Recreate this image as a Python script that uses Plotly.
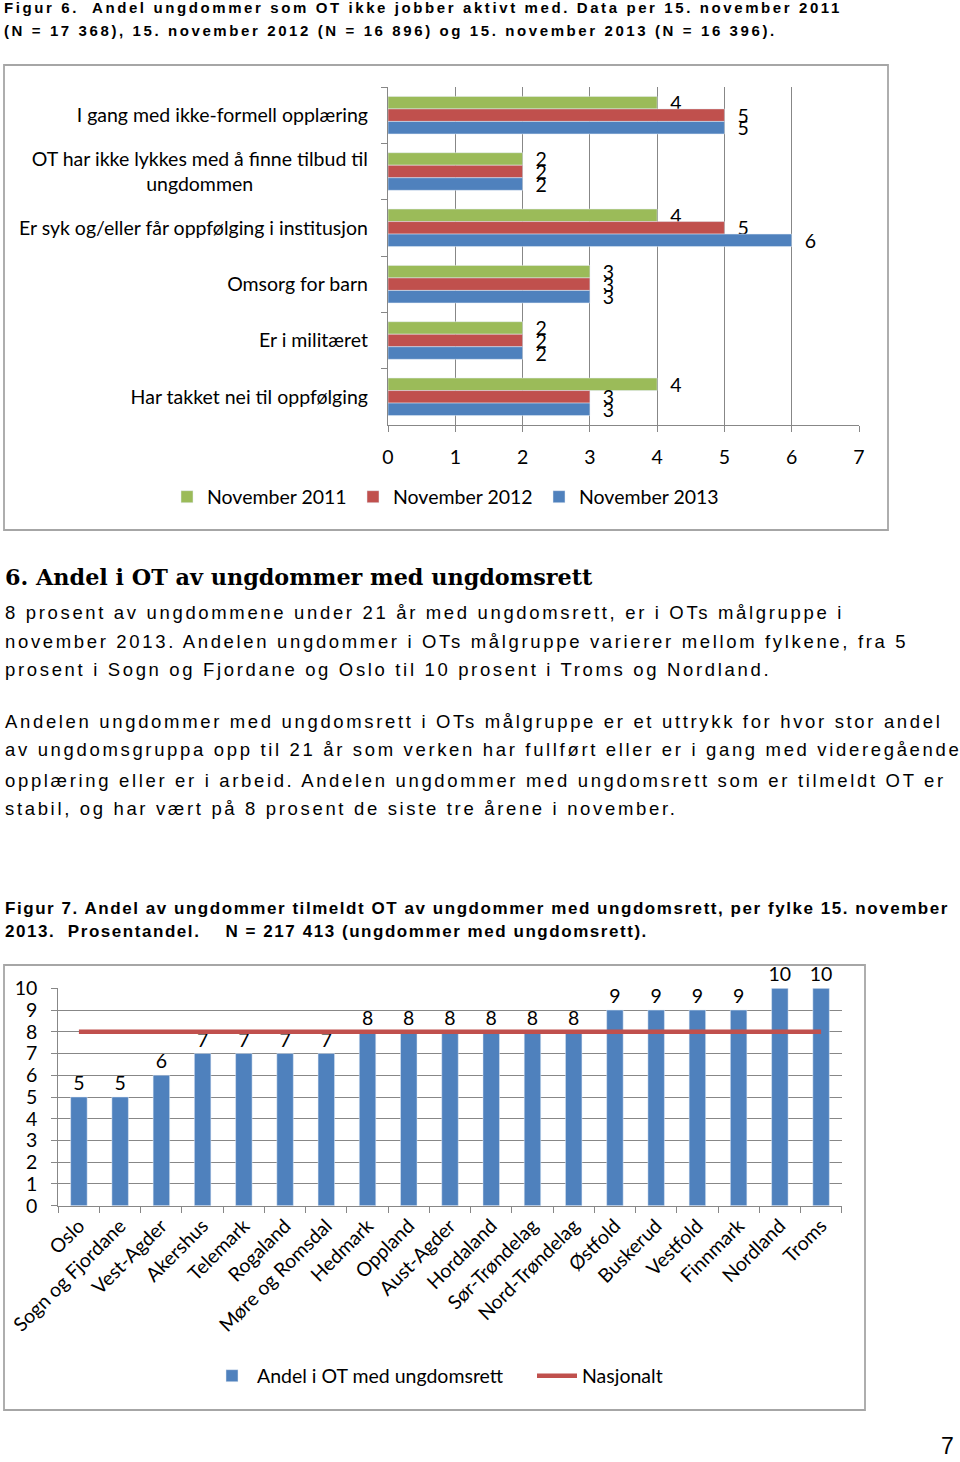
import plotly.graph_objects as go

W, H = 960, 1462


def px(x):
    return x / W


def py(y):
    return 1 - y / H


# ---------------- Figure 6 data ----------------
reasons = [
    "I gang med ikke-formell opplæring",
    "OT har ikke lykkes med å finne tilbud til<br>ungdommen" + "\u00a0" * 23,
    "Er syk og/eller får oppfølging i institusjon",
    "Omsorg for barn",
    "Er i militæret",
    "Har takket nei til oppfølging",
]
nov_2011 = [4, 2, 4, 3, 2, 4]
nov_2012 = [5, 2, 5, 3, 2, 3]
nov_2013 = [5, 2, 6, 3, 2, 3]
series_names = ["November 2011", "November 2012", "November 2013"]
series_colors = ["#9BBB59", "#C0504D", "#4F81BD"]

# ---------------- Figure 7 data ----------------
counties = ["Oslo", "Sogn og Fjordane", "Vest-Agder", "Akershus", "Telemark",
            "Rogaland", "Møre og Romsdal", "Hedmark", "Oppland", "Aust-Agder",
            "Hordaland", "Sør-Trøndelag", "Nord-Trøndelag", "Østfold", "Buskerud",
            "Vestfold", "Finnmark", "Nordland", "Troms"]
share_ot = [5, 5, 6, 7, 7, 7, 7, 8, 8, 8, 8, 8, 8, 9, 9, 9, 9, 10, 10]
national = [8] * len(counties)

CHART_FONT = "Lato, Carlito, Calibri, sans-serif"
FS = 19.5
GRID = "#878787"

fig = go.Figure()

for name, vals, col in zip(series_names, [nov_2011, nov_2012, nov_2013], series_colors):
    fig.add_trace(go.Bar(
        y=reasons, x=vals, orientation="h", name=name, marker_color=col,
        texttemplate="\u00a0\u00a0%{x}", textposition="outside", constraintext="none",
        cliponaxis=False, textfont=dict(family=CHART_FONT, size=FS, color="#000"),
        xaxis="x", yaxis="y", legend="legend", hoverinfo="skip"))

fig.add_trace(go.Bar(
    x=counties, y=share_ot, name="Andel i OT med ungdomsrett", marker_color="#4F81BD",
    width=0.4, texttemplate="%{y}", textposition="outside", constraintext="none",
    cliponaxis=False, textfont=dict(family=CHART_FONT, size=FS, color="#000"),
    xaxis="x2", yaxis="y2", legend="legend2", hoverinfo="skip"))
fig.add_trace(go.Scatter(
    x=counties, y=national, mode="lines", name="Nasjonalt",
    line=dict(color="#C0504D", width=4.5), xaxis="x2", yaxis="y2",
    legend="legend2", hoverinfo="skip"))

tickfont = dict(family=CHART_FONT, size=FS, color="#000")

fig.update_layout(
    width=W, height=H, autosize=False,
    margin=dict(l=0, r=0, t=0, b=0, autoexpand=False),
    paper_bgcolor="white", plot_bgcolor="white",
    barmode="group", bargap=0.333, bargroupgap=0,
    font=dict(family=CHART_FONT, color="#000"),
    xaxis=dict(domain=[px(388), px(859)], range=[0, 7], dtick=1, anchor="y",
               automargin=False,
               showgrid=True, gridcolor=GRID, gridwidth=1.3, zeroline=False,
               showline=True, linecolor=GRID, linewidth=1.3,
               ticks="outside", ticklen=6, tickcolor=GRID, tickwidth=1.3,
               tickfont=tickfont, ticklabelstandoff=8),
    yaxis=dict(domain=[py(425), py(87)], type="category", autorange="reversed",
               anchor="x", automargin=False, showgrid=False, zeroline=False,
               showline=True, linecolor=GRID, linewidth=1.3,
               ticks="outside", ticklen=6, tickcolor=GRID, tickwidth=1.3,
               tickson="boundaries", tickfont=tickfont, ticklabelstandoff=15),
    xaxis2=dict(domain=[px(58.3), px(841.7)], type="category", anchor="y2",
                automargin=False,
                tickangle=-45, ticks="outside", tickson="boundaries", ticklen=6,
                tickcolor=GRID, tickwidth=1.3, showline=True, linecolor=GRID,
                linewidth=1.3, showgrid=False, tickfont=tickfont),
    yaxis2=dict(domain=[py(1205.7), py(988.3)], range=[0, 10], dtick=1, anchor="x2",
                automargin=False,
                showgrid=True, gridcolor=GRID, gridwidth=1.3, zeroline=False,
                showline=True, linecolor=GRID, linewidth=1.3,
                ticks="outside", ticklen=6, tickcolor=GRID, tickwidth=1.3,
                tickfont=tickfont, ticklabelstandoff=10),
    legend=dict(orientation="h", x=px(167), y=py(497), xanchor="left", yanchor="middle",
                font=tickfont, itemwidth=30, entrywidth=141, bgcolor="rgba(0,0,0,0)"),
    legend2=dict(orientation="h", x=px(207), y=py(1376), xanchor="left", yanchor="middle",
                 font=tickfont, itemwidth=40, entrywidth=270, bgcolor="rgba(0,0,0,0)"),
    showlegend=True,
)

# chart frames
for (x0, y0, x1, y1) in [(4, 65, 888, 530), (4, 965, 865, 1410)]:
    fig.add_shape(type="rect", xref="paper", yref="paper",
                  x0=px(x0), x1=px(x1), y0=py(y1), y1=py(y0),
                  line=dict(color="#A6A6A6", width=1.8), fillcolor="rgba(0,0,0,0)",
                  layer="below")

# ---------------- Text on the page ----------------
SANS = "Liberation Sans, Arial, sans-serif"


def add_line(text, x, y, size, family=SANS, spacing=0.0, bold=False, color="#000"):
    t = text
    if bold:
        t = "<b>" + t + "</b>"
    if spacing:
        t = "<span style='letter-spacing:%.2fpx'>%s</span>" % (spacing, t)
    fig.add_annotation(text=t, xref="paper", yref="paper", x=px(x), y=py(y),
                       xanchor="left", yanchor="middle", showarrow=False,
                       font=dict(family=family, size=size, color=color))


cap6 = ["Figur 6.  Andel ungdommer som OT ikke jobber aktivt med. Data per 15. november 2011",
        "(N = 17 368), 15. november 2012 (N = 16 896) og 15. november 2013 (N = 16 396)."]
for line, y in zip(cap6, [8, 31]):
    add_line(line, 2, y, 15, spacing=2.6, bold=True)

add_line("6. Andel i OT av ungdommer med ungdomsrett", 3, 577, 22.3,
         family="DejaVu Serif, serif", bold=True)

para1 = ["8 prosent av ungdommene under 21 år med ungdomsrett, er i OTs målgruppe i",
         "november 2013. Andelen ungdommer i OTs målgruppe varierer mellom fylkene, fra 5",
         "prosent i Sogn og Fjordane og Oslo til 10 prosent i Troms og Nordland."]
for line, y in zip(para1, [612, 641, 670]):
    add_line(line, 3, y, 18.5, spacing=2.66)

para2 = ["Andelen ungdommer med ungdomsrett i OTs målgruppe er et uttrykk for hvor stor andel",
         "av ungdomsgruppa opp til 21 år som verken har fullført eller er i gang med videregående",
         "opplæring eller er i arbeid. Andelen ungdommer med ungdomsrett som er tilmeldt OT er",
         "stabil, og har vært på 8 prosent de siste tre årene i november."]
for line, y in zip(para2, [721, 750, 780, 809]):
    add_line(line, 3, y, 18.5, spacing=2.66)

cap7 = ["Figur 7. Andel av ungdommer tilmeldt OT av ungdommer med ungdomsrett, per fylke 15. november",
        "2013.  Prosentandel.    N = 217 413 (ungdommer med ungdomsrett)."]
for line, y in zip(cap7, [908, 931]):
    add_line(line, 3, y, 17, spacing=1.55, bold=True)

fig.add_annotation(text="7", xref="paper", yref="paper", x=px(947), y=py(1446),
                   xanchor="center", yanchor="middle", showarrow=False,
                   font=dict(family=SANS, size=23, color="#000"))

fig.write_html("out.html")
